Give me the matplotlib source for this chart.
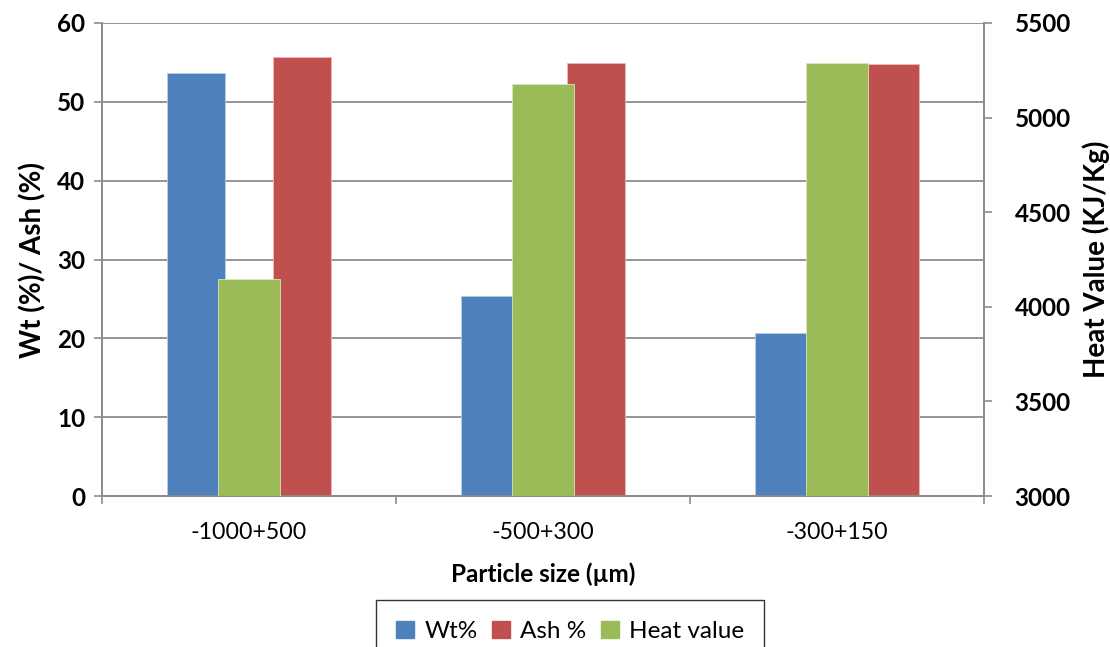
import numpy as np
import matplotlib.pyplot as plt
from matplotlib.patches import Patch

plt.rcParams['font.family'] = ['Lato', 'DejaVu Sans']

categories = ['-1000+500', '-500+300', '-300+150']
wt = [53.6, 25.4, 20.7]
ash = [55.7, 54.9, 54.8]
heat = [4145, 5177, 5287]

blue = '#4F81BD'
red = '#C0504D'
green = '#9BBB59'
axis_gray = '#8C8C8C'

fig = plt.figure(figsize=(11.1, 6.47), dpi=100)
ax = fig.add_axes([102 / 1110, 1 - 496 / 647, 882 / 1110, 473 / 647])
ax2 = ax.twinx()

x = np.arange(len(categories))
ax.bar(x - 0.18, wt, width=0.197, color=blue, edgecolor='#B8CCE4', linewidth=0.6, zorder=3)
ax.bar(x + 0.18, ash, width=0.197, color=red, edgecolor='#E6B9B8', linewidth=0.6, zorder=3)
ax2.bar(x, heat, width=0.21, color=green, edgecolor='#D7E4BD', linewidth=0.6, zorder=3)

ax.set_xlim(-0.5, 2.5)
ax.set_ylim(0, 60)
ax.set_yticks(range(0, 61, 10))
ax2.set_ylim(3000, 5500)
ax2.set_yticks(range(3000, 5501, 500))

ax.yaxis.grid(True, color=axis_gray, linewidth=1.3, zorder=0)
ax.set_axisbelow(True)

# category boundaries as ticks, labels in the middle
ax.set_xticks([-0.5, 0.5, 1.5, 2.5])
ax.set_xticklabels([])
ax.set_xticks(x, minor=True)
ax.set_xticklabels(categories, minor=True, fontsize=16.7)
ax.tick_params(axis='x', which='major', length=6, color=axis_gray, width=1.2)
ax.tick_params(axis='x', which='minor', length=0, pad=18.5)

ax.tick_params(axis='y', length=6, color=axis_gray, width=1.2, labelsize=17.5, pad=6)
ax2.tick_params(axis='y', length=6, color=axis_gray, width=1.2, labelsize=17.5, pad=16)
for lab in ax.get_yticklabels() + ax2.get_yticklabels():
    lab.set_fontweight('bold')

for a in (ax, ax2):
    a.spines['top'].set_visible(False)
    for s in ('left', 'right', 'bottom'):
        a.spines[s].set_color(axis_gray)
        a.spines[s].set_linewidth(1.3)

ax.set_ylabel('Wt (%)/ Ash (%)', fontsize=20, fontweight='bold', labelpad=8)
ax2.set_ylabel('Heat Value (KJ/Kg)', fontsize=20, fontweight='bold', labelpad=8)
ax.set_xlabel('Particle size (µm)', fontsize=17.5, fontweight='bold', labelpad=14)

handles = [Patch(color=blue, label='Wt%'), Patch(color=red, label='Ash %'),
           Patch(color=green, label='Heat value')]
leg = fig.legend(handles=handles, loc='upper center', bbox_to_anchor=(570 / 1110, 1 - 600 / 647),
                 ncol=3, fontsize=17.5, frameon=True, fancybox=False, handlelength=0.75,
                 handleheight=0.75, handletextpad=0.4, columnspacing=0.6, borderpad=0.85,
                 borderaxespad=0)
leg.get_frame().set_edgecolor('black')
leg.get_frame().set_linewidth(1.0)

fig.savefig('out.png', dpi=100)
